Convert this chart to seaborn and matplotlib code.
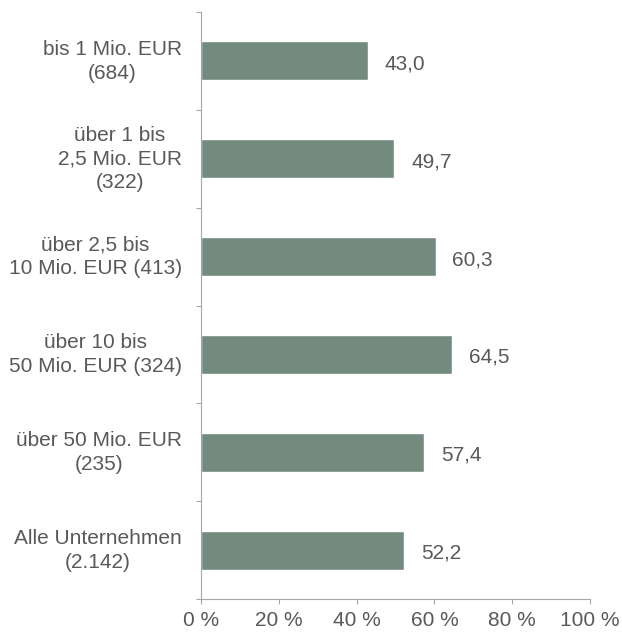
import matplotlib
matplotlib.use("Agg")
import matplotlib.pyplot as plt
from matplotlib.transforms import ScaledTranslation
import seaborn as sns
import pandas as pd
import numpy as np

categories = [
    "bis 1 Mio. EUR\n(684)",
    "über 1 bis\n2,5 Mio. EUR\n(322)",
    "über 2,5 bis\n10 Mio. EUR (413)",
    "über 10 bis\n50 Mio. EUR (324)",
    "über 50 Mio. EUR\n(235)",
    "Alle Unternehmen\n(2.142)",
]
values = [43.0, 49.7, 60.3, 64.5, 57.4, 52.2]
x_ticks = [0, 20, 40, 60, 80, 100]

sns.set_style("white")
plt.rcParams["font.family"] = ["Liberation Sans", "DejaVu Sans"]

text_col = "#595959"
bar_col = "#728B7E"
axis_col = "#A6A6A6"
fs = 15

df = pd.DataFrame({"label": categories, "value": values})

fig = plt.figure(figsize=(6.22, 6.34), dpi=100)
ax = fig.add_axes([201 / 622, 35 / 634, 389 / 622, 587 / 634])

sns.barplot(data=df, y="label", x="value", orient="h", color=bar_col,
            width=0.4, saturation=1, ax=ax)

for i, v in enumerate(values):
    ax.text(v + 4.3, i + 0.03, f"{v:.1f}".replace(".", ","), va="center",
            ha="left", fontsize=fs, color=text_col)

ax.set_xlim(0, 100)
ax.set_ylim(len(categories) - 0.5, -0.5)
ax.set_xticks(x_ticks)
ax.set_xticklabels([f"{t} %" for t in x_ticks], fontsize=fs, color=text_col)
ax.set_yticks(range(len(categories)))
ax.set_yticklabels(categories, fontsize=fs, color=text_col,
                   multialignment="center", linespacing=1.32)
ax.set_yticks(np.arange(-0.5, len(categories), 1), minor=True)
ax.tick_params(axis="y", which="major", length=0, pad=13.7)
ax.tick_params(axis="y", which="minor", length=3.6, width=0.8, color=axis_col,
               direction="out", left=True)
ax.tick_params(axis="x", length=3.6, width=0.8, color=axis_col, pad=5,
               direction="out", bottom=True)
ax.set_xlabel("")
ax.set_ylabel("")

# labels sit a little higher than matplotlib centres them
shift = ScaledTranslation(0, 3 / 72, fig.dpi_scale_trans)
for lbl in ax.get_yticklabels():
    lbl.set_transform(lbl.get_transform() + shift)

for s in ["top", "right"]:
    ax.spines[s].set_visible(False)
for s in ["left", "bottom"]:
    ax.spines[s].set_color(axis_col)
    ax.spines[s].set_linewidth(0.8)

fig.savefig("out.png", dpi=100)
